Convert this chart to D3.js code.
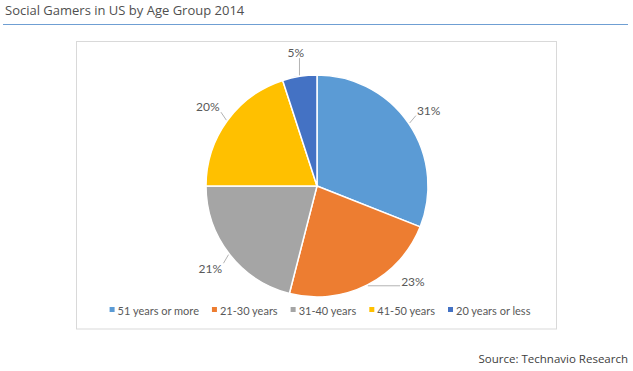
<!DOCTYPE html>
<html>
<head>
<meta charset="utf-8">
<script src="https://cdn.jsdelivr.net/npm/d3@7"></script>
<style>
  body { margin: 0; background: #fff; }
  svg { display: block; }
</style>
</head>
<body>
<div class="box"></div>
<script>
// données
const categories = ['51 years or more', '21-30 years', '31-40 years', '41-50 years', '20 years or less'];
const valeurs = [31, 23, 21, 20, 5];
const couleurs = ['#5B9BD5', '#ED7D31', '#A5A5A5', '#FFC000', '#4472C4'];

const donnee = categories.map((nom, i) => ({nom, valeur: valeurs[i]}));

const dims = {width: 633, height: 371, radius: 111};
const centre = {x: 317, y: 186};

const svg = d3.select('.box')
              .append('svg')
              .attr('width', dims.width)
              .attr('height', dims.height);

// titre
svg.append('text')
   .attr('x', 5)
   .attr('y', 15)
   .attr('font-family', '"Open Sans", sans-serif')
   .attr('font-size', 13)
   .attr('fill', '#505050')
   .text('Social Gamers in US by Age Group 2014');

svg.append('line')
   .attr('x1', 3).attr('x2', 628)
   .attr('y1', 24.5).attr('y2', 24.5)
   .attr('stroke', '#6f9fd3')
   .attr('stroke-width', 1.2);

// cadre
svg.append('rect')
   .attr('x', 76.5).attr('y', 41.5)
   .attr('width', 480).attr('height', 287.5)
   .attr('fill', '#fff')
   .attr('stroke', '#d9d9d9');

// source
svg.append('text')
   .attr('x', 628)
   .attr('y', 363)
   .attr('text-anchor', 'end')
   .attr('font-family', '"Open Sans", sans-serif')
   .attr('font-size', 11.5)
   .attr('fill', '#404040')
   .text('Source: Technavio Research');

const couleur = d3.scaleOrdinal()
                  .domain(categories)
                  .range(couleurs);

const pie = d3.pie()
              .sort(null)
              .value(d => d.valeur);

const arcPath = d3.arc()
                  .outerRadius(dims.radius)
                  .innerRadius(0);

const graph = svg.append('g')
                 .attr('transform', `translate(${centre.x}, ${centre.y})`);

const tranches = pie(donnee);

graph.selectAll('path')
     .data(tranches)
     .enter()
     .append('path')
     .attr('d', arcPath)
     .attr('fill', d => couleur(d.data.nom))
     .attr('stroke', '#fff')
     .attr('stroke-width', 1.5);

// étiquettes
const total = d3.sum(valeurs);
const rLabel = 135;
const yMax = 95;

const labels = graph.selectAll('.lab')
     .data(tranches)
     .enter()
     .append('text')
     .attr('class', 'lab')
     .attr('font-family', 'Lato, sans-serif')
     .attr('font-size', 12)
     .attr('fill', '#595959')
     .attr('text-anchor', 'middle')
     .attr('dominant-baseline', 'central')
     .each(function(d) {
         const a = (d.startAngle + d.endAngle) / 2;
         let x = rLabel * Math.sin(a);
         let y = -rLabel * Math.cos(a);
         if (y > yMax) {
             y = yMax;
             x = Math.sign(x) * Math.sqrt(rLabel * rLabel - yMax * yMax);
         }
         d3.select(this).attr('x', x).attr('y', y);
     })
     .text(d => Math.round(d.data.valeur / total * 100) + '%');

// lignes de rappel
labels.each(function(d) {
    const b = this.getBBox();
    const a = (d.startAngle + d.endAngle) / 2;
    const px = (dims.radius + 1) * Math.sin(a);
    const py = -(dims.radius + 1) * Math.cos(a);
    const qx = Math.max(b.x - 1, Math.min(px, b.x + b.width + 1));
    const qy = Math.max(b.y + 2, Math.min(py, b.y + b.height - 2));
    graph.append('line')
         .attr('x1', px).attr('y1', py)
         .attr('x2', qx).attr('y2', qy)
         .attr('stroke', '#b3b3b3')
         .attr('stroke-width', 1);
});

// légendes
const legende = svg.append('g');
let posX = 0;
categories.forEach((nom, i) => {
    const item = legende.append('g').attr('transform', `translate(${posX}, 0)`);
    item.append('rect')
        .attr('x', 0).attr('y', -3)
        .attr('width', 5).attr('height', 5)
        .attr('fill', couleur(nom));
    const t = item.append('text')
        .attr('x', 8)
        .attr('y', 0)
        .attr('dominant-baseline', 'central')
        .attr('font-family', 'Lato, sans-serif')
        .attr('font-size', 11)
        .attr('fill', '#595959')
        .text(nom);
    posX += 8 + t.node().getComputedTextLength() + 13;
});
const largeur = posX - 13;
legende.attr('transform', `translate(${320 - largeur / 2}, 310)`);
</script>
</body>
</html>
